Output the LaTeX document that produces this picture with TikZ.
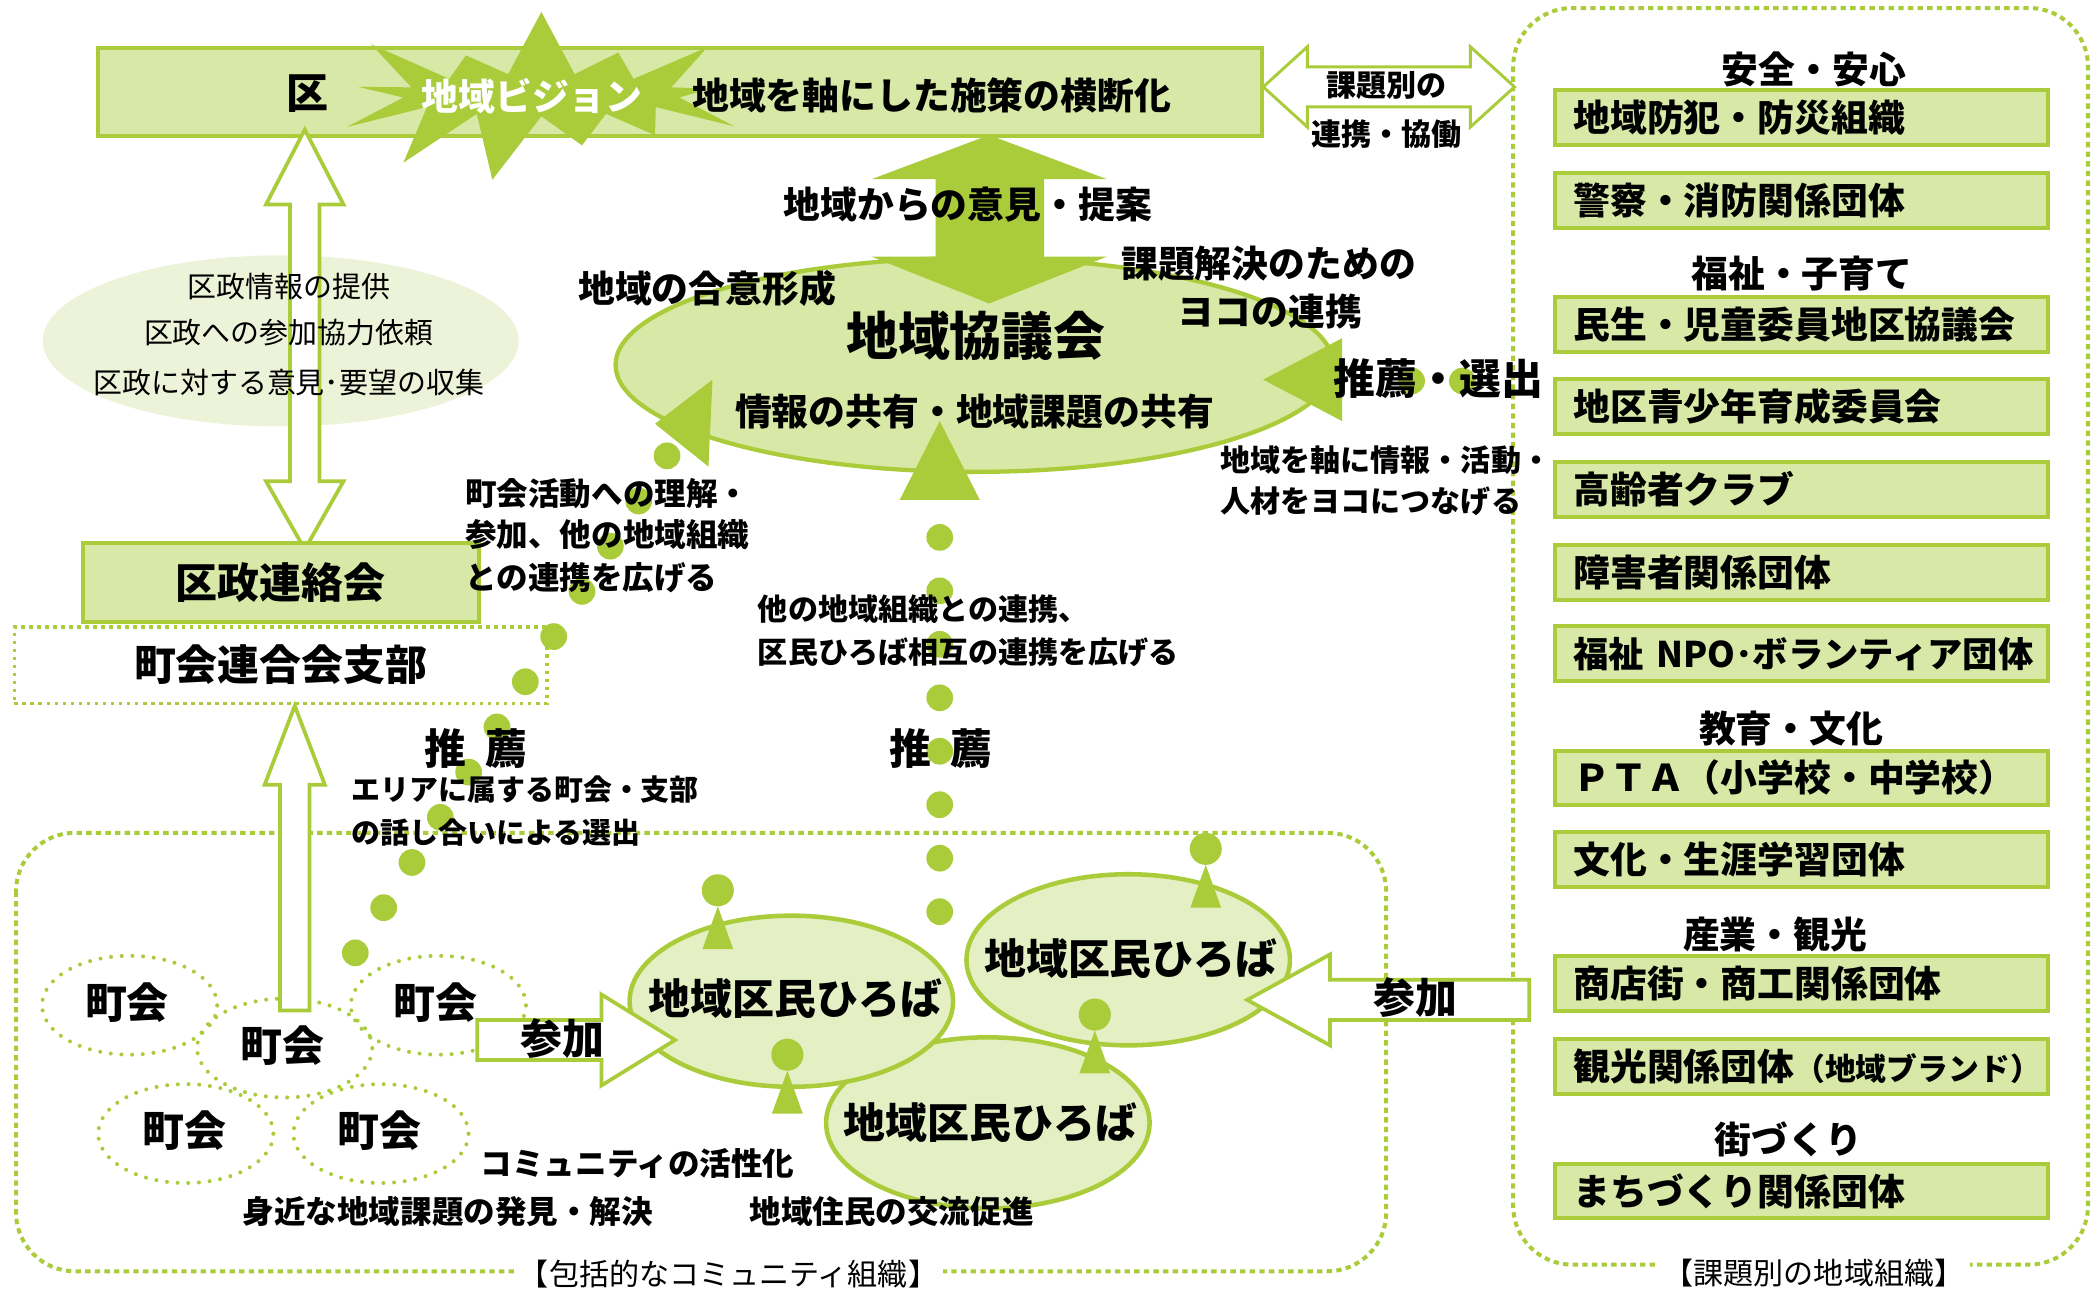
\documentclass[tikz,border=0pt]{standalone}
\usepackage{fontspec}
\setmainfont{Noto Sans CJK JP}
\usepackage{tikz}
\usetikzlibrary{shapes.geometric}
\usetikzlibrary{shapes.symbols}
\definecolor{leaf}{RGB}{170,204,58}
\definecolor{leafpale}{RGB}{216,232,166}
\definecolor{leafsoft}{RGB}{228,240,196}
\definecolor{leafmist}{RGB}{236,243,216}

\begin{document}
\begin{tikzpicture}
  [x = .25mm, y = -.25mm,
   every node/.style = {inner sep = 0pt, outer sep = 0pt},
   hugetxt/.style = {font = \fontsize{27.6}{30}\selectfont\bfseries},
   bigtxt/.style = {font = \fontsize{22.3}{25}\selectfont\bfseries},
   midtxt/.style = {font = \fontsize{19.6}{22}\selectfont\bfseries},
   smalltxt/.style = {font = \fontsize{16.8}{19}\selectfont\bfseries},
   slimtxt/.style = {font = \fontsize{16}{18}\selectfont\bfseries},
   tinytxt/.style = {font = \fontsize{15.4}{18}\selectfont\bfseries},
   thintxt/.style = {font = \fontsize{15.4}{18}\selectfont},
   captxt/.style = {font = \fontsize{16}{18}\selectfont, fill = white, inner xsep = 1mm},
   plate/.style = {draw = leaf, fill = leafpale, line width = .75mm},
   itembox/.style = {plate, midtxt, minimum width = 92.25mm, minimum height = 10.25mm,
                     inner xsep = 3.5mm, text width = 85.25mm, align = left},
   plaza/.style = {ellipse, draw = leaf, fill = leafsoft, line width = .85mm,
                   minimum width = 60.5mm, minimum height = 32mm},
   dotframe/.style = {draw = leaf, line width = .75mm, dash pattern = on 1mm off .8mm,
                      rounded corners = 11mm},
   dotbox/.style = {draw = leaf, line width = .6mm, dash pattern = on .7mm off .8mm},
   dotring/.style = {ellipse, draw = leaf, line width = .75mm, line cap = round,
                     dash pattern = on 0pt off 2mm, minimum width = 32.75mm,
                     minimum height = 18.5mm},
   hollowarrow/.style = {draw = leaf, fill = white, line width = .7mm}]

  \useasboundingbox (0,0) rectangle (1568,964);

  \draw[dotframe] (1132,6) rectangle (1562,946);
  \draw[dotframe] (12,623) rectangle (1037,951);

  \node[ellipse, fill = leafmist, minimum width = 89mm, minimum height = 32mm] (infocloud) at (210,255) {};

  \node[plate, minimum width = 217.75mm, minimum height = 16.5mm] (ward) at (508.5,69) {};
  \node[starburst, fill = leaf, minimum width = 78mm, minimum height = 34mm,
        starburst points = 13, starburst point height = 13mm, random starburst = 40] (vision) at (405,71) {};

  \draw[hollowarrow] (228,97) -- (257,153) -- (239,153) -- (239,360) -- (257,360)
    -- (228,411) -- (199,360) -- (217,360) -- (217,153) -- (199,153) -- cycle;

  \node[plate, bigtxt, minimum width = 74mm, minimum height = 14.75mm] (council) at (210,435.5) {区政連絡会};
  \node[dotbox, bigtxt, minimum width = 99.6mm, minimum height = 14.25mm] (branch) at (210,497.5) {町会連合会支部};

  \node[ellipse, draw = leaf, fill = leafpale, line width = .8mm,
        minimum width = 134.25mm, minimum height = 40mm] (forum) at (729,273) {};

  \fill[leaf] (740,101) -- (828,134) -- (781,134) -- (781,192) -- (828,192)
    -- (740,227) -- (652,192) -- (700,192) -- (700,134) -- (652,134) -- cycle;

  \fill[leaf] (945,284) -- (1004,253) -- (1004,315) -- cycle;
  \fill[leaf] (533,284) -- (490,317) -- (530,349) -- cycle;
  \fill[leaf] (703,315) -- (733,374) -- (673,374) -- cycle;

  \foreach \i in {0,...,11}{
    \fill[leaf] (499-21.2*\i, 341+33.8*\i) circle [radius = 2.5mm];
  }
  \foreach \y in {402,442,...,682}{
    \fill[leaf] (703,\y) circle [radius = 2.5mm];
  }
  \fill[leaf] (1056,285) circle [radius = 2.5mm];
  \fill[leaf] (1094,285) circle [radius = 2.5mm];

  \node[dotring] (town1) at (97,752) {};
  \node[dotring] (town2) at (213,784) {};
  \node[dotring] (town3) at (328,752) {};
  \node[dotring] (town4) at (139,848) {};
  \node[dotring] (town5) at (285,848) {};

  \draw[hollowarrow] (220.5,528) -- (243,587) -- (231.5,587) -- (231.5,756)
    -- (209.5,756) -- (209.5,587) -- (198,587) -- cycle;

  \node[plaza] (plazaC) at (739,840) {};
  \node[plaza] (plazaA) at (592,749) {};
  \node[plaza] (plazaB) at (844,718) {};

  \foreach \x/\y in {537/666, 589/789, 902/635, 819/759}{
    \fill[leaf] (\x,\y) circle [radius = 3mm];
    \fill[leaf] (\x,\y+12) -- (\x+11.5,\y+44) -- (\x-11.5,\y+44) -- cycle;
  }

  \draw[hollowarrow] (357,763) -- (450,763) -- (450,744) -- (505,778)
    -- (450,812) -- (450,793) -- (357,793) -- cycle;
  \draw[hollowarrow] (1144,733) -- (995,733) -- (995,714) -- (933,748)
    -- (995,782) -- (995,763) -- (1144,763) -- cycle;
  \draw[hollowarrow, line width = .55mm] (945,65) -- (978,35) -- (978,50) -- (1100,50)
    -- (1100,35) -- (1133,65) -- (1100,95) -- (1100,80) -- (978,80) -- (978,95) -- cycle;

  \foreach \y/\t [count = \n] in {88/地域防犯・防災組織, 150/警察・消防関係団体,
      243/民生・児童委員地区協議会, 304/地区青少年育成委員会, 366/高齢者クラブ,
      428/障害者関係団体, 489/{\fontsize{18.8}{22}\selectfont\mbox{福祉 NPO･ボランティア団体}},
      582/ＰＴＡ（小学校・中学校）,
      643/文化・生涯学習団体, 736/商店街・商工関係団体,
      798/{観光関係団体{\fontsize{16.4}{18}\selectfont（地域ブランド）}},
      891/まちづくり関係団体}{
    \node[itembox] (group\n) at (1347.5,\y) {\t};
  }
  \foreach \x/\y/\t [count = \n] in {1357/52/安全・安心, 1348/205/福祉・子育て,
      1340/545/教育・文化, 1328/699/産業・観光, 1338/852/街づくり}{
    \node[midtxt] (field\n) at (\x,\y) {\t};
  }

  \node[bigtxt] (wardname) at (230,70) {区};
  \node[midtxt, text = white] (visiontxt) at (398,72) {地域ビジョン};
  \node[midtxt] (crossing) at (697,71) {地域を軸にした施策の横断化};
  \node[slimtxt] (linkA) at (1037,64) {課題別の};
  \node[slimtxt] (linkB) at (1037,100) {連携・協働};

  \node[thintxt] (info1) at (216,214) {区政情報の提供};
  \node[thintxt] (info2) at (216,249) {区政への参加協力依頼};
  \node[thintxt] (info3) at (216,286) {区政に対する意見･要望の収集};

  \node[midtxt] (opinion) at (724,153) {地域からの意見・提案};
  \node[midtxt] (consensus) at (529,216) {地域の合意形成};
  \node[midtxt] (solveA) at (949,197) {課題解決のための};
  \node[midtxt] (solveB) at (950,233) {ヨコの連携};
  \node[hugetxt] (forumname) at (730,251) {地域協議会};
  \node[midtxt] (share) at (729,308) {情報の共有・地域課題の共有};
  \node[bigtxt] (elect) at (1076,283) {推薦・選出};
  \node[slimtxt, anchor = west] (axisA) at (913,344) {地域を軸に情報・活動・};
  \node[slimtxt, anchor = west] (axisB) at (913,375) {人材をヨコにつなげる};

  \node[smalltxt, anchor = west] (townA) at (348,369) {町会活動への理解・};
  \node[smalltxt, anchor = west] (townB) at (348,400) {参加、他の地域組織};
  \node[smalltxt, anchor = west] (townC) at (348,432) {との連携を広げる};
  \node[slimtxt, anchor = west] (plazaTxtA) at (567,456) {他の地域組織との連携、};
  \node[slimtxt, anchor = west] (plazaTxtB) at (567,488) {区民ひろば相互の連携を広げる};

  \node[bigtxt] (recommendA) at (356,560) {推\hspace{.45em}薦};
  \node[bigtxt] (recommendB) at (704,560) {推\hspace{.45em}薦};
  \node[tinytxt, anchor = west] (areaA) at (263,591) {エリアに属する町会・支部};
  \node[tinytxt, anchor = west] (areaB) at (263,623) {の話し合いによる選出};

  \node[bigtxt] (townname1) at (95,750) {町会};
  \node[bigtxt] (townname2) at (211,782) {町会};
  \node[bigtxt] (townname3) at (326,750) {町会};
  \node[bigtxt] (townname4) at (138,846) {町会};
  \node[bigtxt] (townname5) at (284,846) {町会};

  \node[bigtxt] (plazanameA) at (595,747) {地域区民ひろば};
  \node[bigtxt] (plazanameB) at (846,717) {地域区民ひろば};
  \node[bigtxt] (plazanameC) at (741,840) {地域区民ひろば};

  \node[bigtxt] (joinL) at (421,777) {参加};
  \node[bigtxt] (joinR) at (1059,746) {参加};

  \node[smalltxt] (lively) at (477,870) {コミュニティの活性化};
  \node[smalltxt] (solve) at (335,906) {身近な地域課題の発見・解決};
  \node[smalltxt] (exchange) at (667,906) {地域住民の交流促進};

  \node[captxt] (capL) at (545,953) {【包括的なコミュニティ組織】};
  \node[captxt] (capR) at (1357,952) {【課題別の地域組織】};
\end{tikzpicture}
\end{document}
